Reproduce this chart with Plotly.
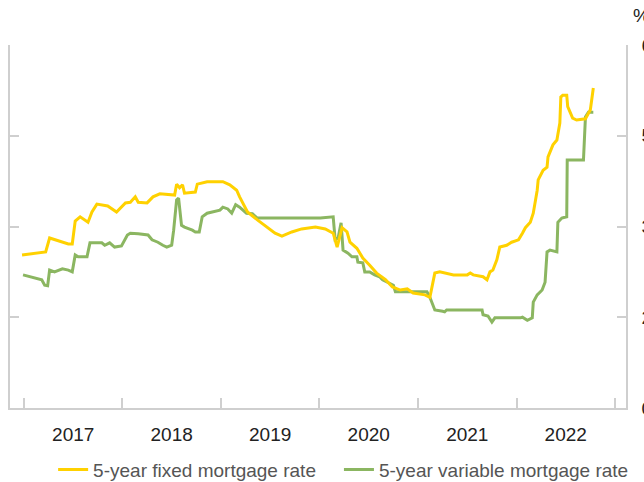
import numpy as np
import pandas as pd
import plotly.graph_objects as go

# Decimal-year positions and rates (%)
fixed_t = [2016.98, 2017.19, 2017.22, 2017.26, 2017.35, 2017.45, 2017.49, 2017.52, 2017.57, 2017.65,
           2017.69, 2017.74, 2017.85, 2017.94, 2018.03, 2018.08, 2018.13, 2018.16, 2018.25, 2018.31,
           2018.38, 2018.53, 2018.55, 2018.58, 2018.61, 2018.63, 2018.74, 2018.76, 2018.86, 2019.02,
           2019.09, 2019.16, 2019.19, 2019.22, 2019.27, 2019.37, 2019.47, 2019.55, 2019.62, 2019.72,
           2019.82, 2019.96, 2020.06, 2020.14, 2020.18, 2020.23, 2020.28, 2020.31, 2020.38, 2020.44,
           2020.51, 2020.58, 2020.67, 2020.74, 2020.82, 2020.89, 2020.95, 2021.07, 2021.12, 2021.14,
           2021.17, 2021.22, 2021.29, 2021.36, 2021.50, 2021.53, 2021.56, 2021.66, 2021.70, 2021.73,
           2021.76, 2021.80, 2021.83, 2021.90, 2021.95, 2022.02, 2022.06, 2022.09, 2022.14, 2022.17,
           2022.21, 2022.22, 2022.27, 2022.31, 2022.32, 2022.37, 2022.41, 2022.44, 2022.45, 2022.47,
           2022.51, 2022.52, 2022.57, 2022.61, 2022.70, 2022.75, 2022.78]
fixed_v = [2.53, 2.58, 2.58, 2.81, 2.76, 2.71, 2.71, 3.09, 3.16, 3.07,
           3.24, 3.37, 3.34, 3.24, 3.39, 3.40, 3.49, 3.40, 3.39, 3.49,
           3.54, 3.52, 3.70, 3.64, 3.69, 3.55, 3.57, 3.70, 3.74, 3.74,
           3.69, 3.60, 3.49, 3.39, 3.24, 3.11, 2.98, 2.89, 2.84, 2.91,
           2.96, 2.99, 2.96, 2.89, 2.66, 2.98, 2.91, 2.74, 2.64, 2.48,
           2.36, 2.23, 2.12, 2.00, 1.95, 1.97, 1.90, 1.87, 1.83, 2.00,
           2.23, 2.25, 2.23, 2.20, 2.20, 2.23, 2.20, 2.17, 2.12, 2.25,
           2.28, 2.45, 2.66, 2.69, 2.74, 2.78, 2.89, 2.98, 3.07, 3.22,
           3.60, 3.77, 3.93, 3.98, 4.15, 4.35, 4.43, 4.71, 5.14, 5.17,
           5.17, 4.98, 4.79, 4.76, 4.78, 4.93, 5.29]

var_t = [2016.99, 2017.04, 2017.11, 2017.18, 2017.21, 2017.24, 2017.26, 2017.31, 2017.39, 2017.45,
         2017.49, 2017.52, 2017.55, 2017.64, 2017.67, 2017.72, 2017.79, 2017.82, 2017.87, 2017.92,
         2017.99, 2018.05, 2018.08, 2018.16, 2018.26, 2018.30, 2018.36, 2018.41, 2018.45, 2018.50,
         2018.52, 2018.55, 2018.57, 2018.60, 2018.63, 2018.71, 2018.74, 2018.78, 2018.81, 2018.86,
         2018.92, 2018.99, 2019.02, 2019.07, 2019.11, 2019.15, 2019.19, 2019.26, 2019.32, 2019.37,
         2020.01, 2020.14, 2020.16, 2020.19, 2020.22, 2020.24, 2020.29, 2020.33, 2020.38, 2020.39,
         2020.44, 2020.46, 2020.51, 2020.56, 2020.61, 2020.64, 2020.70, 2020.75, 2020.77, 2021.09,
         2021.12, 2021.17, 2021.25, 2021.27, 2021.29, 2021.65, 2021.66, 2021.71, 2021.75, 2021.78,
         2022.04, 2022.06, 2022.11, 2022.16, 2022.17, 2022.21, 2022.26, 2022.29, 2022.31, 2022.34,
         2022.41, 2022.42, 2022.46, 2022.51, 2022.515, 2022.68, 2022.70, 2022.73, 2022.78]
var_v = [2.20, 2.18, 2.15, 2.12, 2.03, 2.02, 2.28, 2.25, 2.30, 2.28,
         2.25, 2.53, 2.50, 2.50, 2.73, 2.73, 2.73, 2.69, 2.73, 2.66,
         2.68, 2.86, 2.89, 2.88, 2.86, 2.78, 2.74, 2.69, 2.66, 2.69,
         2.94, 3.44, 3.47, 3.02, 2.99, 2.94, 2.91, 2.91, 3.16, 3.22,
         3.24, 3.27, 3.32, 3.29, 3.22, 3.36, 3.32, 3.22, 3.21, 3.14,
         3.14, 3.16, 2.78, 2.81, 3.06, 2.61, 2.56, 2.50, 2.50, 2.41,
         2.40, 2.25, 2.25, 2.20, 2.17, 2.12, 2.07, 2.03, 1.92, 1.92,
         1.83, 1.62, 1.60, 1.59, 1.62, 1.62, 1.54, 1.52, 1.42, 1.49,
         1.49, 1.50, 1.45, 1.49, 1.75, 1.87, 1.95, 2.08, 2.58, 2.61,
         2.58, 3.07, 3.14, 3.16, 4.10, 4.10, 4.81, 4.89, 4.89]

y_tickvals = [0, 1.5, 3, 4.5, 6]
y_ticktext = ["0", "2", "3", "5", "6"]
series_names = ["5-year fixed mortgage rate", "5-year variable mortgage rate"]


def to_date(d):
    y = int(np.floor(d))
    start = pd.Timestamp(year=y, month=1, day=1)
    end = pd.Timestamp(year=y + 1, month=1, day=1)
    return start + (end - start) * (d - y)


fixed_x = [to_date(d) for d in fixed_t]
var_x = [to_date(d) for d in var_t]

YELLOW = "#FFD100"
GREEN = "#8BB661"
AXIS = "#CFCFCF"
FONT = "Arial, Liberation Sans, sans-serif"

fig = go.Figure()
fig.add_trace(go.Scatter(x=var_x, y=var_v, mode="lines", name=series_names[1],
                         line=dict(color=GREEN, width=3), legend="legend2"))
fig.add_trace(go.Scatter(x=fixed_x, y=fixed_v, mode="lines", name=series_names[0],
                         line=dict(color=YELLOW, width=3), legend="legend"))

legend_common = dict(orientation="h", xanchor="left", y=-0.17, yanchor="middle",
                     font=dict(size=19, color="#555555"), itemwidth=30,
                     bgcolor="rgba(0,0,0,0)")

fig.update_layout(
    width=644, height=482,
    margin=dict(l=10, r=18, t=45, b=74, autoexpand=False),
    paper_bgcolor="white", plot_bgcolor="white",
    font=dict(family=FONT, size=19, color="#222222"),
    showlegend=True,
    legend=dict(x=0.07, **legend_common),
    legend2=dict(x=0.534, **legend_common),
    xaxis=dict(
        type="date",
        range=[to_date(2016.858), to_date(2023.112)],
        tickmode="linear", dtick="M12", tick0="2017-01-01",
        tickformat="%Y",
        ticklabelmode="period",
        ticks="inside", ticklen=10, tickcolor=AXIS, tickwidth=1.5,
        showline=True, linecolor=AXIS, linewidth=1.5,
        showgrid=False, zeroline=False, automargin=False,
        ticklabelstandoff=8,
        tickfont=dict(size=19, color="#222222"),
    ),
    yaxis=dict(
        range=[0, 6], side="right",
        tickvals=y_tickvals, ticktext=y_ticktext,
        ticks="inside", ticklen=9, tickcolor=AXIS, tickwidth=1.5,
        showline=True, linecolor=AXIS, linewidth=1.5, mirror="ticks",
        showgrid=False, zeroline=False, automargin=False,
        ticklabelstandoff=10,
        tickfont=dict(size=19, color="#222222"),
    ),
    annotations=[dict(text="%", xref="paper", yref="paper", x=1, y=1, xshift=5, yshift=30,
                      xanchor="left", yanchor="middle", showarrow=False,
                      font=dict(size=19, color="#222222"))],
)

fig.write_html("out.html", config={"displayModeBar": False},
               post_script="document.body.style.margin='0';document.body.style.overflow='hidden';")
